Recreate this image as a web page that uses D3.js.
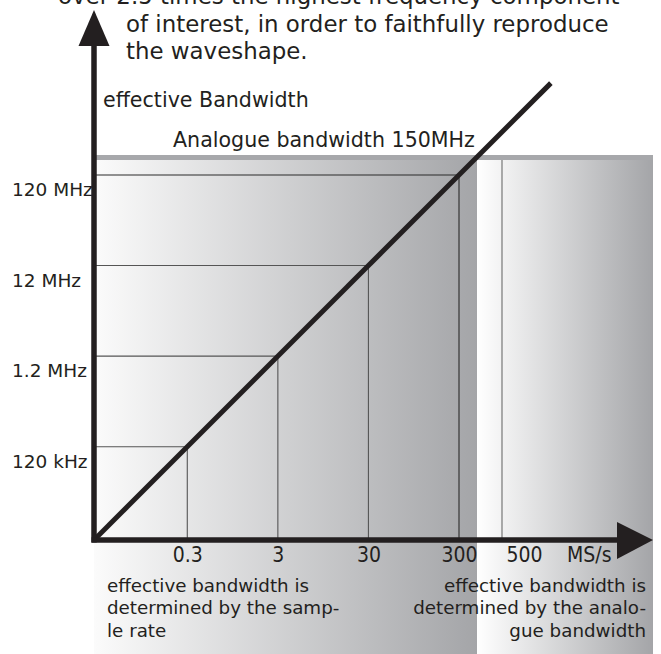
<!DOCTYPE html>
<html>
<head>
<meta charset="utf-8">
<script src="https://cdn.jsdelivr.net/npm/d3@7"></script>
<style>
  html, body { margin: 0; padding: 0; background: #ffffff; }
  svg { display: block; }
  text { fill: #231f20; font-family: "DejaVu Sans", "Liberation Sans", sans-serif; }
  .tick-lab { font-family: "DejaVu Sans Condensed", "DejaVu Sans", sans-serif; font-stretch: condensed; }
</style>
</head>
<body>
<svg id="chart" width="661" height="654"></svg>
<script>
// ---------- data ----------
const introLines = [
  "over 2.5 times the highest frequency component",
  "of interest, in order to faithfully reproduce",
  "the waveshape."
];
const yTitle = "effective Bandwidth";
const analogueLabel = "Analogue bandwidth 150MHz";
const sampleRates = [0.3, 3, 30, 300];            // MS/s
const sampleRateLabels = ["0.3", "3", "30", "300"];
const bandwidths = [0.12, 1.2, 12, 120];           // MHz
const bandwidthLabels = ["120 kHz", "1.2 MHz", "12 MHz", "120 MHz"];
const analogueRate = 500;                          // MS/s
const analogueRateLabel = "500";
const xUnit = "MS/s";
const lineRates = [0.028, 3100];                   // MS/s
const lineBandwidths = [0.0112, 1240];             // MHz
const leftNote = ["effective bandwidth is", "determined by the samp-", "le rate"];
const rightNote = ["effective bandwidth is", "determined by the analo-", "gue bandwidth"];

// ---------- layout ----------
const W = 661, H = 654;
const x0 = 94, y0 = 540;
const svg = d3.select("#chart");
const ink = "#231f20";

const x = d3.scaleLog().domain([0.028, 300]).range([x0, 459]);
const xTick = d3.scaleLog().domain([0.028, 300, 500]).range([x0, 459, 502]);
const y = d3.scaleLog().domain([0.0112, 120]).range([y0, 175]);

// ---------- gradients ----------
const defs = svg.append("defs");
const gL = defs.append("linearGradient").attr("id", "gL").attr("x1", 0).attr("x2", 1).attr("y1", 0).attr("y2", 0);
gL.append("stop").attr("offset", 0).attr("stop-color", "#fbfbfb");
gL.append("stop").attr("offset", 1).attr("stop-color", "#a4a5a8");
const gR = defs.append("linearGradient").attr("id", "gR").attr("x1", 0).attr("x2", 1).attr("y1", 0).attr("y2", 0);
gR.append("stop").attr("offset", 0).attr("stop-color", "#ffffff");
gR.append("stop").attr("offset", 1).attr("stop-color", "#a4a5a8");

const splitX = 477, panelTop = 155, bandH = 5, rightEdge = 653;
svg.append("rect").attr("x", x0).attr("y", panelTop).attr("width", splitX - x0).attr("height", H - panelTop).attr("fill", "url(#gL)");
svg.append("rect").attr("x", splitX).attr("y", panelTop).attr("width", rightEdge - splitX).attr("height", H - panelTop).attr("fill", "url(#gR)");
svg.append("rect").attr("x", x0).attr("y", panelTop).attr("width", rightEdge - x0).attr("height", bandH).attr("fill", "#a7a8ab");

// ---------- grid (drop lines) ----------
const grid = svg.append("g");
sampleRates.forEach((r, i) => {
  const b = bandwidths[i];
  const col = i === 3 ? "#2a2a2a" : "#555555";
  grid.append("line").attr("x1", x0).attr("x2", x(r)).attr("y1", y(b)).attr("y2", y(b))
    .attr("stroke", col).attr("stroke-width", 1.1);
  grid.append("line").attr("x1", x(r)).attr("x2", x(r)).attr("y1", y(b)).attr("y2", y0)
    .attr("stroke", col).attr("stroke-width", 1.1);
});
grid.append("line").attr("x1", xTick(analogueRate)).attr("x2", xTick(analogueRate))
  .attr("y1", panelTop + bandH).attr("y2", y0).attr("stroke", "#808080").attr("stroke-width", 1.3);

// ---------- diagonal ----------
const linePts = lineRates.map((r, i) => [r, lineBandwidths[i]]);
svg.append("path").datum(linePts)
  .attr("d", d3.line().x(d => x(d[0])).y(d => y(d[1])))
  .attr("fill", "none").attr("stroke", ink).attr("stroke-width", 5);

// ---------- axes ----------
svg.append("line").attr("x1", x0).attr("x2", x0).attr("y1", y0 + 2.5).attr("y2", 40).attr("stroke", ink).attr("stroke-width", 5.5);
svg.append("path").attr("d", `M${x0 - 15.5},46 L${x0},10 L${x0 + 15.5},46 Z`).attr("fill", ink);
svg.append("line").attr("x1", x0 - 2.5).attr("x2", 622).attr("y1", y0).attr("y2", y0).attr("stroke", ink).attr("stroke-width", 5.5);
svg.append("path").attr("d", `M617,522 L653,540 L617,559 Z`).attr("fill", ink);

// x tick labels via axis
const xAxis = d3.axisBottom(xTick)
  .tickValues(sampleRates.concat([analogueRate]))
  .tickFormat(d => d === analogueRate ? analogueRateLabel : sampleRateLabels[sampleRates.indexOf(d)])
  .tickSize(0).tickPadding(0);
const gx = svg.append("g").attr("transform", `translate(0,${y0})`).call(xAxis);
gx.select(".domain").remove();
gx.attr("font-family", null).attr("font-size", null);
gx.selectAll("text")
  .attr("class", "tick-lab")
  .attr("y", 22).attr("dy", null)
  .style("font-size", "21px").style("fill", ink);
gx.selectAll(".tick").filter(d => d === analogueRate).select("text")
  .attr("text-anchor", "start").attr("x", 4);
svg.append("text").attr("class", "tick-lab").attr("x", 567).attr("y", y0 + 22)
  .style("font-size", "21px").text(xUnit);

// y labels
svg.append("g").selectAll("text").data(bandwidths).join("text")
  .attr("x", 12).attr("y", d => y(d) + 21)
  .style("font-size", "18.5px")
  .text((d, i) => bandwidthLabels[i]);

// titles
svg.append("text").attr("x", 103).attr("y", 107).style("font-size", "20.6px").text(yTitle);
svg.append("text").attr("x", 173).attr("y", 147).style("font-size", "20.6px").text(analogueLabel);

// intro text (first line is cut by the top edge, as in the original)
svg.append("text").attr("x", 58).attr("y", 4).style("font-size", "22.9px").text(introLines[0]);
svg.append("text").attr("x", 126).attr("y", 32).style("font-size", "22.9px").text(introLines[1]);
svg.append("text").attr("x", 126).attr("y", 58.5).style("font-size", "22.9px").text(introLines[2]);

// notes
svg.append("g").selectAll("text").data(leftNote).join("text")
  .attr("x", 107).attr("y", (d, i) => 591.5 + i * 22.5)
  .style("font-size", "18.3px").text(d => d);
svg.append("g").selectAll("text").data(rightNote).join("text")
  .attr("x", 646).attr("y", (d, i) => 591.5 + i * 22.5)
  .attr("text-anchor", "end")
  .style("font-size", "18.3px").text(d => d);
</script>
</body>
</html>
